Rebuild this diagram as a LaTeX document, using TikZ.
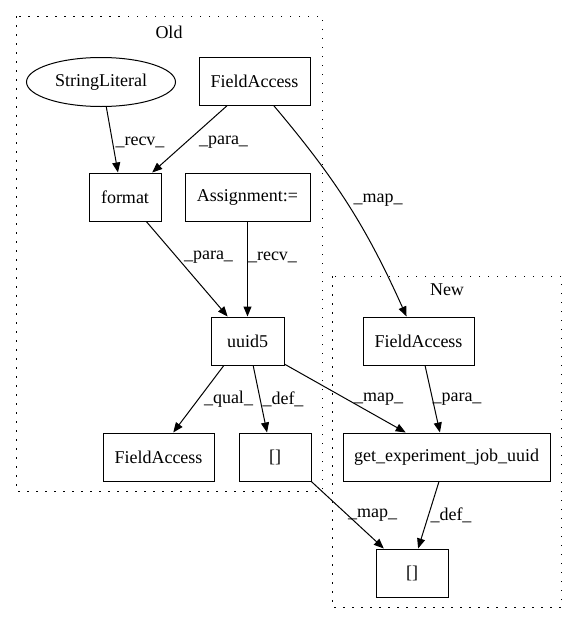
\documentclass[tikz,border=0pt]{standalone}
\usepackage{fontspec}
\setmainfont{Liberation Serif}
\usetikzlibrary{arrows.meta,shapes.geometric}

\begin{document}
\begin{tikzpicture}[x=1pt,y=-1pt,
	box/.style={draw,rectangle,line width=1pt,inner sep=0pt,minimum height=48pt,font=\fontsize{18}{21}\selectfont},
	oval/.style={draw,ellipse,line width=1pt,inner sep=0pt,minimum width=149pt,minimum height=49pt,font=\fontsize{18}{21}\selectfont},
	flow/.style={line width=1pt,-{Triangle[length=10pt,width=8pt]}},
	lbl/.style={inner sep=0pt,font=\fontsize{18}{21}\selectfont},
	cluster/.style={line width=1pt,dash pattern=on 1.5pt off 7.5pt}]
			\useasboundingbox (0,0) rectangle (577,624);
			\draw[cluster] (16,16) rectangle (322,491);
			\draw[cluster] (332,276) rectangle (561,607);
			\node[lbl] (oldname) at (169,32) {Old};
			\node[lbl] (newname) at (447,290) {New};
			\node[oval] (strlit) at (101,82) {StringLiteral};
			\node[box,minimum width=111pt] (fieldold) at (254.5,81) {FieldAccess};
			\node[box,minimum width=72pt] (format) at (125,197) {format};
			\node[box,minimum width=125pt] (assign) at (247.5,197) {Assignment:=};
			\node[box,minimum width=73pt] (uuid) at (247.5,341) {uuid5};
			\node[box,minimum width=111pt] (fieldqual) at (158.5,457) {FieldAccess};
			\node[box,minimum width=72pt] (idxold) at (275,457) {[]};
			\node[box,minimum width=111pt] (fieldnew) at (418.5,341) {FieldAccess};
			\node[box,minimum width=207pt] (getuuid) at (446.5,457) {get\_experiment\_job\_uuid};
			\node[box,minimum width=72pt] (idxnew) at (412,573) {[]};
			\draw[flow] (strlit.282) -- (format.106) node[lbl,at={(140,142)}] {\_recv\_};
			\draw[flow] (fieldold.222) -- (format.42) node[lbl,at={(223.5,142)}] {\_para\_};
			\draw[flow] (fieldold.308) to[bend left=8] (fieldnew.116) node[lbl,at={(378,200)}] {\_map\_};
			\draw[flow] (format.311) -- (uuid.129) node[lbl,at={(208.5,257)}] {\_para\_};
			\draw[flow] (assign.south) -- (uuid.north) node[lbl,at={(272.5,257)}] {\_recv\_};
			\draw[flow] (uuid.226) -- (fieldqual.59) node[lbl,at={(228.5,399)}] {\_qual\_};
			\draw[flow] (uuid.283) -- (idxold.108) node[lbl,at={(283,399)}] {\_def\_};
			\draw[flow] (uuid.328) -- (getuuid.149) node[lbl,at={(378.5,399)}] {\_map\_};
			\draw[flow] (fieldnew.285) -- (getuuid.105) node[lbl,at={(457,399)}] {\_para\_};
			\draw[flow] (idxold.326) -- (idxnew.139) node[lbl,at={(372.5,515)}] {\_map\_};
			\draw[flow] (getuuid.253) -- (idxnew.76) node[lbl,at={(451,515)}] {\_def\_};
		\end{tikzpicture}
\end{document}
